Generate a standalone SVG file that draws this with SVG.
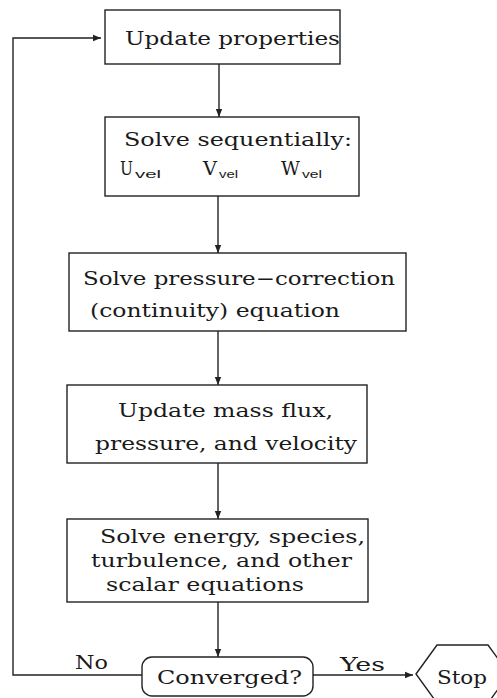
<svg xmlns="http://www.w3.org/2000/svg" width="497" height="698" viewBox="0 0 497 698">
<defs>
<style>
.box{fill:#fff;stroke:#222;stroke-width:1.4}
.ln{fill:none;stroke:#222;stroke-width:1.4}
.t{font-family:"DejaVu Serif","Liberation Serif",serif;font-size:19px;fill:#1a1a1a}
.s{font-family:"Liberation Sans","DejaVu Sans",sans-serif;font-size:11px;fill:#1a1a1a}
</style>
<marker id="ah" viewBox="0 0 10 10" refX="10" refY="5" markerWidth="12" markerHeight="8" markerUnits="userSpaceOnUse" orient="auto">
<path d="M0,1 L10,5 L0,9 Z" fill="#222"/>
</marker>
</defs>
<rect width="497" height="698" fill="#fff"/>
<g id="connectors">
<path class="ln" d="M219,64 V117" marker-end="url(#ah)"/>
<path class="ln" d="M218,196 V253" marker-end="url(#ah)"/>
<path class="ln" d="M218,331 V385" marker-end="url(#ah)"/>
<path class="ln" d="M218,463 V519" marker-end="url(#ah)"/>
<path class="ln" d="M218,602 V657" marker-end="url(#ah)"/>
<path class="ln" d="M142,675 H13 V38 H101" marker-end="url(#ah)"/>
<path class="ln" d="M313,675 H413" marker-end="url(#ah)"/>
<text class="t" x="75" y="669" textLength="33" lengthAdjust="spacingAndGlyphs">No</text>
<text class="t" x="340" y="671" textLength="45" lengthAdjust="spacingAndGlyphs">Yes</text>
</g>
<g id="update-properties">
<rect class="box" x="105" y="10" width="235" height="54"/>
<text class="t" x="125" y="45" textLength="215" lengthAdjust="spacingAndGlyphs">Update properties</text>
</g>
<g id="solve-sequentially">
<rect class="box" x="105" y="117" width="254" height="79"/>
<text class="t" x="124" y="146" textLength="228" lengthAdjust="spacingAndGlyphs">Solve sequentially:</text>
<text class="t" x="120" y="175" textLength="13" lengthAdjust="spacingAndGlyphs">U</text><text class="s" x="135" y="178" textLength="26" lengthAdjust="spacingAndGlyphs">vel</text>
<text class="t" x="203" y="175" textLength="14" lengthAdjust="spacingAndGlyphs">V</text><text class="s" x="219" y="178" textLength="19" lengthAdjust="spacingAndGlyphs">vel</text>
<text class="t" x="281" y="175" textLength="19" lengthAdjust="spacingAndGlyphs">W</text><text class="s" x="302" y="178" textLength="20" lengthAdjust="spacingAndGlyphs">vel</text>
</g>
<g id="pressure-correction">
<rect class="box" x="69" y="253" width="337" height="78"/>
<text class="t" x="83" y="285" textLength="312" lengthAdjust="spacingAndGlyphs">Solve pressure−correction</text>
<text class="t" x="90" y="317" textLength="250" lengthAdjust="spacingAndGlyphs">(continuity) equation</text>
</g>
<g id="update-mass-flux">
<rect class="box" x="67" y="385" width="300" height="78"/>
<text class="t" x="118" y="417" textLength="215" lengthAdjust="spacingAndGlyphs">Update mass flux,</text>
<text class="t" x="95" y="450" textLength="262" lengthAdjust="spacingAndGlyphs">pressure, and velocity</text>
</g>
<g id="solve-energy">
<rect class="box" x="67" y="519" width="301" height="83"/>
<text class="t" x="100" y="543" textLength="265" lengthAdjust="spacingAndGlyphs">Solve energy, species,</text>
<text class="t" x="91" y="567" textLength="261" lengthAdjust="spacingAndGlyphs">turbulence, and other</text>
<text class="t" x="106" y="591" textLength="198" lengthAdjust="spacingAndGlyphs">scalar equations</text>
</g>
<g id="converged">
<rect class="box" x="142" y="657" width="171" height="39" rx="10"/>
<text class="t" x="157" y="684" textLength="145" lengthAdjust="spacingAndGlyphs">Converged?</text>
</g>
<g id="stop">
<polygon class="box" points="416,674 437,645 488,645 509,674 488,703 437,703"/>
<text class="t" x="437" y="684" textLength="50" lengthAdjust="spacingAndGlyphs">Stop</text>
</g>
</svg>
